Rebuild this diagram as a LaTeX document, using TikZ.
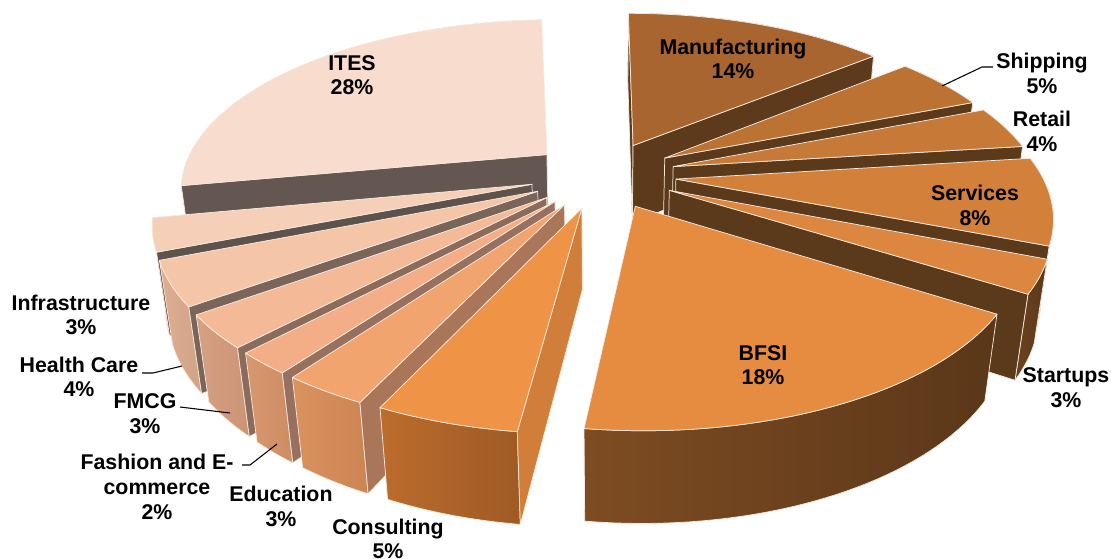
\documentclass[tikz,border=0pt]{standalone}
\usepackage{fontspec}
\setmainfont{Liberation Sans}
\definecolor{edgecol}{HTML}{F6E8DC}
\def\HH{0.25}
\tikzset{
  declare function={
    projw(\v,\w)=4.645+0.8660*\v-0.5*\w;
    projx(\u,\v,\w)=603+1653*\u/projw(\v,\w);
    projy(\v,\w)=254-1653*(0.5*\v+0.8660*\w)/projw(\v,\w);
  },
  faceedge/.style={draw=edgecol, line width=0.55pt, line join=round},
  lbl/.style={font=\bfseries\fontsize{16}{18.5}\selectfont, align=center, text=black, inner sep=0pt},
  leader/.style={draw=black, line width=0.8pt},
}
% #1 start angle, #2 end angle, #3 top, #4 side, #5 outer left, #6 outer right, #7 explode
\newcommand\drawslice[7]{%
  \definecolor{cTop}{HTML}{#3}\definecolor{cSide}{HTML}{#4}%
  \definecolor{cOutL}{HTML}{#5}\definecolor{cOutR}{HTML}{#6}%
  \pgfmathsetmacro\ox{#7*sin((#1+#2)/2)}%
  \pgfmathsetmacro\oy{#7*cos((#1+#2)/2)}%
  \pgfmathsetmacro\sa{(\ox)*cos(#1)-sin(#1)*(4.023+(\oy))}%
  \pgfmathsetmacro\sb{-(\ox)*cos(#2)+sin(#2)*(4.023+(\oy))}%
  % outer curved face
  \path[faceedge, left color=cOutL, right color=cOutR]
    plot[variable=\t, domain=#1:#2, samples=40]
      ({projx(\ox+sin(\t),\oy+cos(\t),\HH)},{projy(\oy+cos(\t),\HH)})
    -- plot[variable=\t, domain=#2:#1, samples=40]
      ({projx(\ox+sin(\t),\oy+cos(\t),0)},{projy(\oy+cos(\t),0)}) -- cycle;
  % side faces
  \ifdim\sa pt>0pt
    \path[faceedge, fill=cSide]
      ({projx(\ox,\oy,\HH)},{projy(\oy,\HH)})
      -- ({projx(\ox+sin(#1),\oy+cos(#1),\HH)},{projy(\oy+cos(#1),\HH)})
      -- ({projx(\ox+sin(#1),\oy+cos(#1),0)},{projy(\oy+cos(#1),0)})
      -- ({projx(\ox,\oy,0)},{projy(\oy,0)}) -- cycle;
  \fi
  \ifdim\sb pt>0pt
    \path[faceedge, fill=cSide]
      ({projx(\ox,\oy,\HH)},{projy(\oy,\HH)})
      -- ({projx(\ox+sin(#2),\oy+cos(#2),\HH)},{projy(\oy+cos(#2),\HH)})
      -- ({projx(\ox+sin(#2),\oy+cos(#2),0)},{projy(\oy+cos(#2),0)})
      -- ({projx(\ox,\oy,0)},{projy(\oy,0)}) -- cycle;
  \fi
  % top face
  \path[faceedge, fill=cTop]
    ({projx(\ox,\oy,\HH)},{projy(\oy,\HH)})
    -- plot[variable=\t, domain=#1:#2, samples=40]
      ({projx(\ox+sin(\t),\oy+cos(\t),\HH)},{projy(\oy+cos(\t),\HH)})
    -- cycle;
}
\begin{document}
\begin{tikzpicture}[x=0.75pt,y=-0.75pt]
\useasboundingbox (0,0) rectangle (1111,558);
% slices, back to front
\drawslice{0}{50.4}{A9652F}{5E3A1D}{6E4421}{5E3A1D}{0.2}      % Manufacturing
\drawslice{259.2}{357.3}{F8DCCD}{645650}{E8CBBE}{D9B9AA}{0.2} % ITES
\drawslice{50.4}{68.4}{BC7233}{5B391B}{6A4220}{5B391B}{0.2}   % Shipping
\drawslice{68.4}{82.8}{C77A37}{5B391B}{6A4220}{5B391B}{0.2}   % Retail
\drawslice{82.8}{111.6}{D3803B}{5B391B}{6A4220}{5B391B}{0.2}  % Services
\drawslice{111.6}{122.4}{DC863F}{5B391B}{6A4220}{5B391B}{0.2} % Startups
\drawslice{248.4}{259.2}{F6CFB8}{5E524C}{EBC3AB}{E3B9A0}{0.2} % Infrastructure
\drawslice{234}{248.4}{F5C5A8}{7A655A}{DDAF94}{D3A286}{0.2}   % Health Care
\drawslice{223.2}{234}{F4BA98}{8A6B5C}{D6A084}{CC9475}{0.2}   % FMCG
\drawslice{216}{223.2}{F3AE87}{987060}{D8986F}{CE8C63}{0.2}   % Fashion
\drawslice{205.2}{216}{F2A46E}{A9765A}{DA925F}{CC8453}{0.2}   % Education
\drawslice{187.2}{205.2}{EF9446}{D07E3A}{BC6C2D}{9F5A24}{0.2} % Consulting
\drawslice{122.4}{187.2}{E68C41}{5E3B1C}{7E4C22}{5A3719}{0.2} % BFSI
% labels
\node[lbl] (lITES) at (352,75) {ITES\\28\%};
\node[lbl] (lMan) at (733,59) {Manufacturing\\14\%};
\node[lbl] (lShip) at (1042,73.5) {Shipping\\5\%};
\node[lbl] (lRet) at (1042,131.5) {Retail\\4\%};
\node[lbl] (lSer) at (975,205.5) {Services\\8\%};
\node[lbl] (lBFSI) at (763,365) {BFSI\\18\%};
\node[lbl] (lStart) at (1066,387.5) {Startups\\3\%};
\node[lbl] (lCons) at (388,539) {Consulting\\5\%};
\node[lbl] (lEdu) at (281,506.5) {Education\\3\%};
\node[lbl] (lFash) at (157,487) {Fashion and E-\\commerce\\2\%};
\node[lbl] (lFMCG) at (145,413.5) {FMCG\\3\%};
\node[lbl] (lHealth) at (79,377) {Health Care\\4\%};
\node[lbl] (lInfra) at (81,315) {Infrastructure\\3\%};
% leaders
\coordinate (shA) at (942,86); \coordinate (shB) at (982,67); \coordinate (shC) at (993,67);
\draw[leader] (shA) -- (shB) -- (shC);
\coordinate (hcA) at (142,373); \coordinate (hcB) at (153,373); \coordinate (hcC) at (182,366);
\draw[leader] (hcA) -- (hcB) -- (hcC);
\coordinate (fmA) at (180,407); \coordinate (fmB) at (230,413);
\draw[leader] (fmA) -- (fmB);
\coordinate (faA) at (242,465); \coordinate (faB) at (250,465); \coordinate (faC) at (277,444);
\draw[leader] (faA) -- (faB) -- (faC);
\end{tikzpicture}
\end{document}
